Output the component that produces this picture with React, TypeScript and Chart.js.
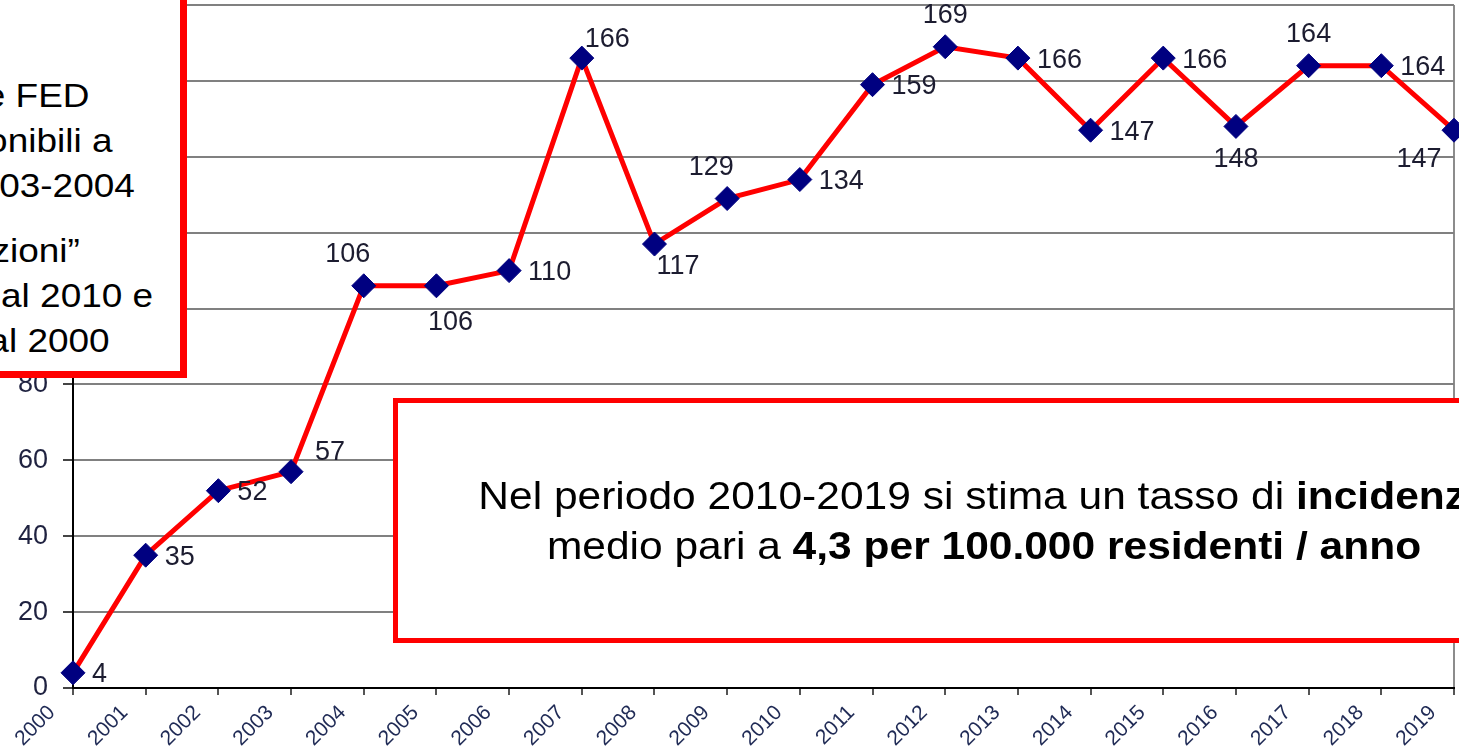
import React, { useEffect, useRef } from 'react';
import { Chart, registerables } from 'chart.js';

Chart.register(...registerables);

// ---- data ----
const years = ['2000', '2001', '2002', '2003', '2004', '2005', '2006', '2007', '2008', '2009', '2010', '2011', '2012', '2013', '2014', '2015', '2016', '2017', '2018', '2019'];
const cases = [4, 35, 52, 57, 106, 106, 110, 166, 117, 129, 134, 159, 169, 166, 147, 166, 148, 164, 164, 147];
const labelAnchors = ['right', 'right', 'right', 'rightHigh', 'aboveLeft', 'belowRight', 'right', 'upRight', 'downRight', 'aboveLeft', 'right', 'right', 'above', 'right', 'right', 'right', 'below', 'above', 'right', 'belowLeft'];
const yMin = 0;
const yMax = 180;
const yStep = 20;

const sideNoteLines = ['e FED', 'disponibili a', '2003-2004', 'zioni\u201d', 'dal 2010 e', 'dal 2000'];
const mainNoteLine1 = ['Nel periodo 2010-2019 si stima un tasso di ', 'incidenza'];
const mainNoteLine2 = ['medio pari a ', '4,3 per 100.000 residenti / anno'];

// ---- styles ----
const FONT = '"Liberation Sans", Arial, Helvetica, sans-serif';
const W = 1459;
const H = 747;

const ANCHOR: Record<string, { align: CanvasTextAlign; dx: number; dy: number }> = {
  right: { align: 'left', dx: 19, dy: 2 },
  rightHigh: { align: 'left', dx: 24, dy: -19 },
  above: { align: 'center', dx: 0, dy: -31 },
  aboveLeft: { align: 'center', dx: -16, dy: -31 },
  below: { align: 'center', dx: 0, dy: 33 },
  belowRight: { align: 'center', dx: 14, dy: 37 },
  upRight: { align: 'left', dx: 3, dy: -19 },
  downRight: { align: 'left', dx: 2, dy: 22 },
  belowLeft: { align: 'center', dx: -35, dy: 29 },
};

const pointLabelPlugin = {
  id: 'pointLabels',
  afterDatasetsDraw(chart: any) {
    const ctx = chart.ctx as CanvasRenderingContext2D;
    const meta = chart.getDatasetMeta(0);
    ctx.save();
    ctx.font = `27px ${FONT}`;
    ctx.fillStyle = '#1c1c30';
    ctx.textBaseline = 'middle';
    meta.data.forEach((pt: any, i: number) => {
      const a = ANCHOR[labelAnchors[i]] || ANCHOR.right;
      ctx.textAlign = a.align;
      ctx.fillText(String(cases[i]), pt.x + a.dx, pt.y + a.dy);
    });
    ctx.restore();
  },
};

const sideNoteEnds = [90, 112, 135, 80, 153, 110];
const sideNoteBaselines = [107, 152, 197, 262, 307, 352];

const zeroPadding = () => ({ left: 0, top: 0, right: 0, bottom: 0 });

export default function App() {
  const ref = useRef<HTMLCanvasElement | null>(null);

  useEffect(() => {
    if (!ref.current) return;
    const chart = new Chart(ref.current, {
      type: 'line',
      data: {
        labels: years,
        datasets: [
          {
            data: cases,
            borderColor: '#ff0000',
            borderWidth: 5,
            pointStyle: 'rectRot',
            pointRadius: 12,
            pointBackgroundColor: '#000080',
            pointBorderColor: '#000080',
            pointBorderWidth: 1,
            tension: 0,
            fill: false,
          },
        ],
      },
      options: {
        animation: false,
        responsive: false,
        devicePixelRatio: 1,
        layout: { autoPadding: false, padding: { top: 5, right: 5, left: 0, bottom: 0 } },
        plugins: { legend: { display: false }, tooltip: { enabled: false } },
        scales: {
          x: {
            type: 'category',
            offset: false,
            grid: {
              color: (c: any) => (c.index === years.length - 1 ? '#8c8c8c' : 'rgba(0,0,0,0)'),
              lineWidth: 2,
              tickColor: '#555',
              tickLength: 7,
            },
            border: { display: true, color: '#000', width: 2 },
            ticks: {
              autoSkip: false,
              maxRotation: 45,
              minRotation: 45,
              font: { family: FONT, size: 21, lineHeight: 1 },
              color: '#1f2a55',
              padding: 7,
              labelOffset: -21,
            },
            afterFit: (s: any) => {
              s.height = 59;
              s.paddingLeft = 0;
              s.paddingRight = 0;
              s.getPadding = zeroPadding;
            },
          },
          y: {
            min: yMin,
            max: yMax,
            ticks: {
              stepSize: yStep,
              font: { family: FONT, size: 27, lineHeight: 1 },
              color: '#1f2240',
              padding: 15,
            },
            grid: { color: '#808080', lineWidth: 2, tickColor: '#444', tickLength: 10 },
            border: { display: true, color: '#000', width: 2 },
            afterFit: (s: any) => {
              s.width = 73;
              s.paddingTop = 0;
              s.paddingBottom = 0;
              s.getPadding = zeroPadding;
            },
          },
        },
      },
      plugins: [pointLabelPlugin],
    } as any);
    return () => chart.destroy();
  }, []);

  const sideFont = 33;
  const sideLH = 45;
  const sideBaseOff = (sideLH - sideFont * 1.117) / 2 + sideFont * 0.905;

  const mainFont = 39;
  const mainLH = 50;
  const mainBaseOff = (mainLH - mainFont * 1.117) / 2 + mainFont * 0.905;

  return (
    <div
      style={{
        position: 'fixed',
        left: 0,
        top: 0,
        width: W,
        height: H,
        overflow: 'hidden',
        background: '#fff',
        fontFamily: FONT,
      }}
    >
      <canvas ref={ref} width={W} height={H} style={{ display: 'block', width: W, height: H }} />

      {/* side note box (top-left) */}
      <div
        style={{
          position: 'absolute',
          left: -20,
          top: -20,
          width: 207,
          height: 398,
          boxSizing: 'border-box',
          border: '7px solid #ff0000',
          background: '#fff',
        }}
      />
      {sideNoteLines.map((t, i) => (
        <div
          key={i}
          style={{
            position: 'absolute',
            right: W - sideNoteEnds[i],
            top: sideNoteBaselines[i] - sideBaseOff,
            fontSize: sideFont,
            lineHeight: `${sideLH}px`,
            whiteSpace: 'nowrap',
            color: '#000',
            transform: 'scaleX(1.12)',
            transformOrigin: 'right center',
          }}
        >
          {t}
        </div>
      ))}

      {/* main note box */}
      <div
        style={{
          position: 'absolute',
          left: 393,
          top: 398,
          width: 1182,
          height: 245,
          boxSizing: 'border-box',
          border: '5px solid #ff0000',
          background: '#fff',
        }}
      >
        {[mainNoteLine1, mainNoteLine2].map((ln, i) => (
          <div
            key={i}
            style={{
              position: 'absolute',
              left: 0,
              right: 0,
              top: (i === 0 ? 510 : 560) - mainBaseOff - 403,
              textAlign: 'center',
              fontSize: mainFont,
              lineHeight: `${mainLH}px`,
              whiteSpace: 'nowrap',
              color: '#000',
              transform: 'scaleX(1.09)',
              transformOrigin: 'center center',
            }}
          >
            {ln[0]}
            <b>{ln[1]}</b>
          </div>
        ))}
      </div>
    </div>
  );
}
